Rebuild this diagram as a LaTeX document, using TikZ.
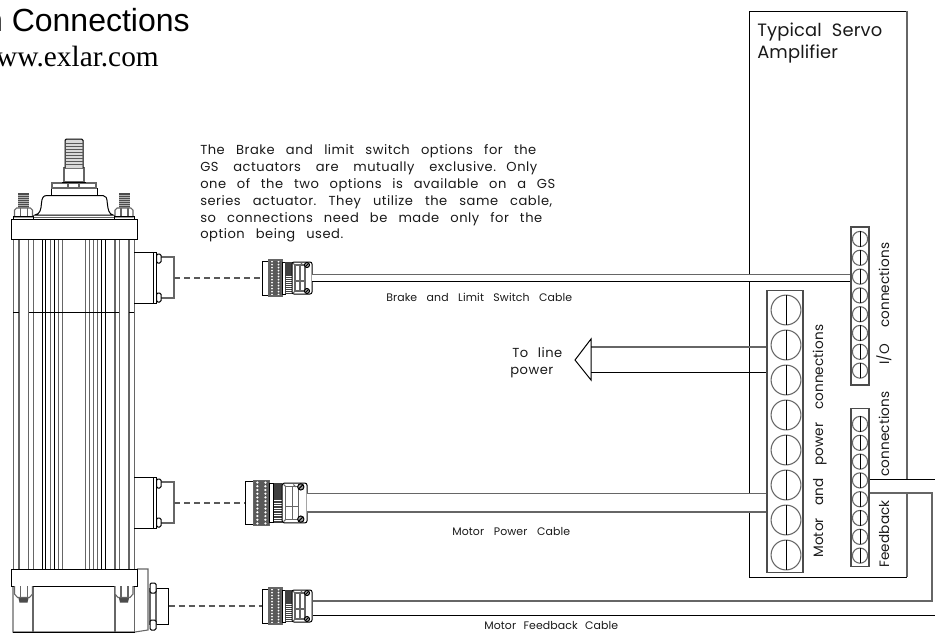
\documentclass[tikz,border=0pt]{standalone}
\usepackage{fontspec}
\setmainfont{Liberation Sans}
\newfontfamily\serifttl{Liberation Serif}
\newfontfamily\cadfont[LetterSpace=4]{Poppins}
\newfontfamily\cadtight[LetterSpace=1]{Poppins}
\newdimen\pxu \pxu=.75pt
\newcommand\cadline[2]{\hbox to #1\pxu{\spaceskip=.3em plus 1fil minus .15em\xspaceskip=\spaceskip #2}}
\tikzset{
 x=.75pt,y=-.75pt,
 ln/.style={line width=.75pt,black},
 gl/.style={line width=.8pt,black!60},
 terminal/.style={draw=black!70,line width=.8pt,fill=white,inner sep=0pt},
 cabletext/.style={inner sep=0pt,font=\cadtight\fontsize{8.2}{9}\selectfont,text=black!90},
 notetext/.style={inner sep=0pt,anchor=base west,font=\cadfont\fontsize{9.8}{10}\selectfont,text=black!90},
 bigtext/.style={inner sep=0pt,anchor=base west,font=\cadtight\fontsize{13.4}{14}\selectfont,text=black!90},
 rottext/.style={inner sep=0pt,anchor=base west,rotate=90,font=\cadtight\fontsize{10.2}{11}\selectfont,text=black!90},
 conn/.style={dash pattern=on 4.5pt off 3pt,line width=.8pt,black!65},
}
% plug: name, x, y, scale
\newcommand\cableplug[4]{%
\begin{scope}[shift={(#2,#3)},scale=#4]
 \coordinate (#1-w) at (0,0);
 \draw[ln,fill=white] (0,-17) rectangle (8,17);
 \fill[black!65] (7,-18) rectangle (20,18);
 \foreach \yy in {-16.5,-13.5,...,16.5}{
  \fill[white] (10,\yy) circle (.75pt);
  \fill[white] (16.5,\yy) circle (.75pt);
 }
 \draw[gl] (7,-18) rectangle (20,18);
 \draw[ln,fill=white] (20,-16) rectangle (23,16);
 \fill[black!75] (23,-16) rectangle (30,16);
 \foreach \yy in {-2,0,...,14}{\draw[white,line width=.4pt] (23.5,\yy) -- (29.5,\yy);}
 \draw[ln,fill=white,rounded corners=1.5pt] (30,-16) rectangle (50,16);
 \draw[gl] (33,-13) -- (43,-13) -- (43,13) -- (33,13) -- cycle;
 \draw[gl] (31,-15) -- (33,-13) (31,15) -- (33,13) (39,-15) -- (41,-13);
 \draw[gl] (33,3) -- (43,3);
 \draw[gl] (38,-13) -- (38,13);
 \foreach \yy in {-13,13}{
  \draw[ln,fill=black!35] (45,\yy) circle (1.9pt);
  \draw[ln] (43.5,\yy+1.5) -- (46.5,\yy-1.5);
 }
\end{scope}}
% side connector on actuator: name, y
\newcommand\sideconn[2]{%
 \draw[ln] (134,#2-26) -- (153,#2-26) (134,#2+25) -- (153,#2+25);
 \draw[ln,fill=white] (153,#2-26) rectangle (156.5,#2+25);
 \draw[gl,fill=white] (161,#2-21) -- (174,#2-21) -- (174,#2+20) -- (161,#2+20);
 \draw[ln,fill=white,rounded corners=1pt] (156.5,#2-24) rectangle (161,#2-15);
 \draw[ln,fill=white,rounded corners=1pt] (156.5,#2+15) rectangle (161,#2+24);
 \coordinate (#1) at (174,#2);
}
\newcommand\bolt[2]{% x centre, nut centre
 \fill[black!70] (#1-5.5,193) rectangle (#1+5.5,208);
 \foreach \yy in {195,197,...,207}{\draw[black!30,line width=.3pt] (#1-5.5,\yy) -- (#1+5.5,\yy);}
 \draw[gl,fill=white] (#1-9,217) -- (#1-9,210) -- (#1-7,208) -- (#1+7,208) -- (#1+9,210) -- (#1+9,217) -- cycle;
 \draw[gl] (#1-3,208) -- (#1-3,216) (#1+4,208) -- (#1+4,216);
 \draw[ln] (#1-10,219) -- (#1-10,216.5) -- (#1+10,216.5) -- (#1+10,219);
}
\newcommand\lowerbolt[1]{%
 \fill[black!70] (#1-5.5,596) -- (#1+5.5,596) -- (#1+4,602.5) -- (#1-4,602.5) -- cycle;
 \draw[gl,fill=white] (#1-9,586) -- (#1-9,594) -- (#1-6,597.5) -- (#1+6,597.5) -- (#1+9,594) -- (#1+9,586);
 \draw[gl] (#1-3,586) -- (#1-3,597) (#1+4,586) -- (#1+4,597);
}
\begin{document}
\begin{tikzpicture}
\useasboundingbox (0,0) rectangle (935,633);
\clip (0,0) rectangle (935,633);
% titles
\node[inner sep=0pt,anchor=base east,font=\fontsize{24}{26}\selectfont] (title) at (190,31) {n Connections};
\node[inner sep=0pt,anchor=base east,font=\serifttl\fontsize{22}{24}\selectfont] (url) at (159,66) {www.exlar.com};
% actuator body
\foreach \xx in {13.3,19,28.3,33.3,50.7,58.7,62.3,85.7,89.3,93.3,97.3,115,119.3,129,134.3}{\draw[gl] (\xx,239) -- (\xx,569);}
\foreach \xx in {42.3,45.7,54.3,101.7,105.3}{\draw[ln] (\xx,239) -- (\xx,569);}
\draw[ln] (13,312) -- (19,312) (29,312) -- (119,312) (129,312) -- (134,312);
% top flange and stud
\draw[ln,fill=white] (11,219) rectangle (137,239);
\bolt{23.5}{0}
\bolt{124}{0}
\draw[ln,fill=white] (35,215) .. controls (40,214) and (41,210) .. (41.5,203) .. controls (42,198) and (43,195.5) .. (47,195.5) -- (103,195.5) .. controls (106,195.5) and (107,198) .. (107.3,203) .. controls (108,210) and (109,214) .. (113,215) -- cycle;
\draw[gl] (34,217.5) -- (114,217.5);
\draw[ln,fill=white] (51,188) rectangle (97,195.5);
\draw[gl,fill=white] (52,183) rectangle (96,188);
\draw[gl] (68,183) -- (68,188) (79,183) -- (79,188);
\draw[gl,fill=white] (64,182) -- (64,168) -- (84,168) -- (84,182) -- cycle;
\draw[ln] (62,182.5) -- (86,182.5);
\draw[ln,fill=black!15,rounded corners=1pt] (65,168) -- (65,139) -- (83,139) -- (83,168);
\foreach \yy in {143,146,149,152,155,158,161,164}{\draw[black!65,line width=.7pt] (65.5,\yy) -- (82.5,\yy);}
% side connectors
\sideconn{sideB}{278}
\sideconn{sideP}{503}
% lower flange and housing
\draw[gl,fill=white] (137,569) -- (148,569) -- (148,630) -- (135,632) -- (13,632) -- (13,586);
\draw[gl] (33,586) -- (33,632) (115,586) -- (115,632) (134.5,586) -- (134.5,632);
\draw[ln] (13,632) -- (135,632);
\draw[ln,fill=white] (11,569) rectangle (137,586);
\lowerbolt{23.5}
\lowerbolt{124}
% feedback side connector
\draw[ln,fill=white] (156,588) -- (168.7,588) -- (168.7,624) -- (156,624);
\draw[gl,fill=white] (150,589) rectangle (156,624);
\draw[ln,fill=white,rounded corners=1pt] (150,583) rectangle (156,593);
\draw[ln,fill=white,rounded corners=1pt] (150,620) rectangle (156,630);
\coordinate (sideF) at (168.7,606);
% plugs
\cableplug{plugB}{262}{278}{1}
\cableplug{plugP}{245}{503}{1.24}
\cableplug{plugF}{262}{606}{1}
\draw[conn] (sideB) -- (plugB-w);
\draw[conn] (sideP) -- (plugP-w);
\draw[conn] (sideF) -- (plugF-w);
% amplifier
\draw[ln] (907,11) -- (749,11) -- (749,577) -- (907,577);
\draw[gl] (907,11) -- (907,577);
% terminals
\node[terminal,minimum width=27pt,minimum height=211pt] (power) at (785,431.5) {};
\node[terminal,minimum width=13.5pt,minimum height=118.5pt] (io) at (860,306) {};
\node[terminal,minimum width=13.5pt,minimum height=119pt] (fb) at (860,487.5) {};
\foreach \yy in {310,345,380,415,450,485,520,555}{
 \draw[gl] (786,\yy) circle (11.2pt);
 \draw[ln] (786,\yy-15) -- (786,\yy+15);
}
\foreach \yy in {239,257.8,276.6,295.4,314.2,333,351.8,370.6}{
 \draw[gl] (860,\yy) circle (5.7pt);
 \draw[ln] (860,\yy-7.6) -- (860,\yy+7.6);
}
\foreach \yy in {424,442.8,461.6,480.4,499.2,518,536.8,555.6}{
 \draw[gl] (860,\yy) circle (5.7pt);
 \draw[ln] (860,\yy-7.6) -- (860,\yy+7.6);
}
% brake cable
\coordinate (bT) at (312,274.5);
\coordinate (bB) at (312,281);
\fill[white] (bT) rectangle (bB -| io.west);
\draw[gl] (bT) -- (bT -| io.west);
\draw[ln] (bB) -- (bB -| io.west);
% motor power cable
\coordinate (pT) at (307,493.5);
\coordinate (pB) at (307,512);
\fill[white] (pT) rectangle (pB -| power.west);
\draw[gl] (pT) -- (pT -| power.west);
\draw[gl] (pB) -- (pB -| power.west);
% line power
\coordinate (lT) at (591,347);
\coordinate (lB) at (591,372);
\coordinate (lTip) at (575,360);
\draw[gl] (lT) -- (lT -| power.west);
\draw[ln] (lB) -- (lB -| power.west);
\draw[ln] (591,339) -- (lTip) -- (591,380) -- cycle;
% feedback cable
\coordinate (fT) at (313,601);
\coordinate (fB) at (313,615);
\coordinate (fC) at (932,601);
\coordinate (fE) at (936,615);
\coordinate (fH) at (932,493);
\coordinate (fO) at (936,479);
\fill[white] (906,479.4) rectangle (908,492.6);
\draw[gl] (fT) -- (fC) -- (fH) -- (fH -| fb.east);
\draw[ln] (fB) -- (fE);
\draw[ln] (fO) -- (fO -| fb.east);
% texts
\node[notetext] (n1) at (200,154) {\cadline{336}{The Brake and limit switch options for the}};
\node[notetext] (n2) at (200,171) {\cadline{337}{GS actuators are mutually exclusive.\hskip .8em Only}};
\node[notetext] (n3) at (200,188) {\cadline{355}{one of the two options is available on a GS}};
\node[notetext] (n4) at (200,205) {\cadline{352}{series actuator. They utilize the same cable,}};
\node[notetext] (n5) at (200,222) {\cadline{342}{so connections need be made only for the}};
\node[notetext] (n6) at (200,238) {\cadline{143}{option being used.}};
\node[cabletext,anchor=base west] (lb1) at (386,301) {\cadline{186}{Brake and Limit Switch Cable}};
\node[cabletext,anchor=base west] (lb2) at (452,535) {\cadline{118}{Motor Power Cable}};
\node[cabletext,anchor=base west] (lb3) at (484,629) {\cadline{134}{Motor Feedback Cable}};
\node[notetext] (tl1) at (512,357) {\cadline{50}{To line}};
\node[notetext] (tl2) at (510,374) {\cadline{42}{power}};
\node[bigtext] (am1) at (757,36) {\cadline{125}{Typical Servo}};
\node[bigtext] (am2) at (757,58) {\cadline{79}{Amplifier}};
\node[rottext] (r1) at (823,558) {\cadline{233}{Motor and power connections}};
\node[rottext] (r2) at (889,365) {\cadline{122}{I/O connections}};
\node[rottext] (r3) at (889,568) {\cadline{70}{Feedback}};
\node[rottext] (r4) at (889,477) {\cadline{88}{connections}};
\end{tikzpicture}
\end{document}
